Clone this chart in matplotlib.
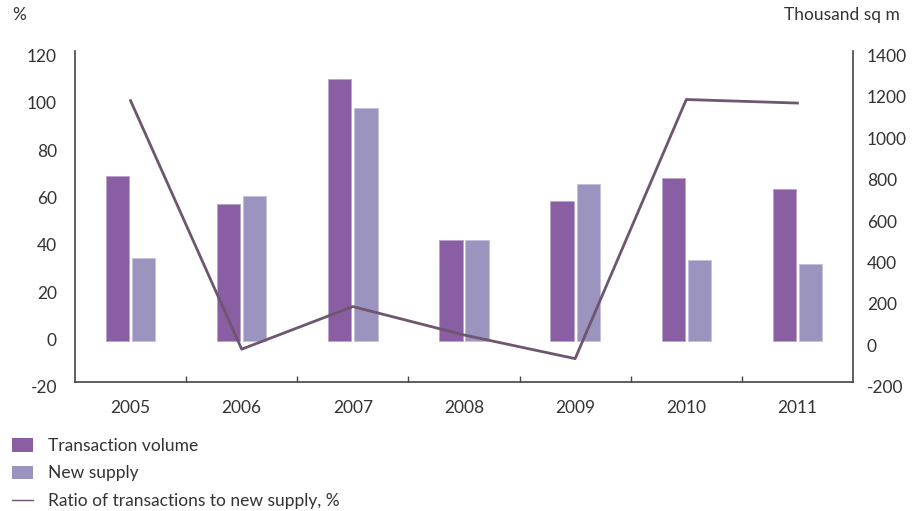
import matplotlib
matplotlib.use("Agg")
import matplotlib.pyplot as plt
import matplotlib.transforms as mtransforms
from matplotlib.patches import Patch
from matplotlib.lines import Line2D
import numpy as np

years = ["2005", "2006", "2007", "2008", "2009", "2010", "2011"]
transaction_volume = [796, 663, 1263, 488, 677, 787, 735]   # thousand sq m
new_supply = [399, 701, 1124, 488, 756, 393, 369]            # thousand sq m
ratio_pct = [99, -6, 12, 0, -10, 99.5, 98]                   # %

left_ticks = [-20, 0, 20, 40, 60, 80, 100, 120]
right_ticks = [-200, 0, 200, 400, 600, 800, 1000, 1200, 1400]

C_TV = "#8A5EA2"
C_NS = "#9B94BE"
C_LINE = "#6D566E"
C_TEXT = "#333333"
C_AX = "#444444"

plt.rcParams['font.family'] = ['Lato', 'DejaVu Sans']
FS = 12.5

fig = plt.figure(figsize=(9.15, 5.11), dpi=100)
ax = fig.add_axes([75/915, 1-382.3/511, (853-75)/915, (382.3-51)/511])
ax2 = ax.twinx()

x = np.arange(len(years))
w = 0.21
off = 0.118
ax2.bar(x - off, transaction_volume, width=w, color=C_TV, edgecolor="#b9a3c9", linewidth=0.6, zorder=2)
ax2.bar(x + off, new_supply, width=w, color=C_NS, edgecolor="#c4bfdc", linewidth=0.6, zorder=2)
ax.plot(x, ratio_pct, color=C_LINE, lw=2, zorder=5)
ax.set_zorder(ax2.get_zorder() + 1)
ax.patch.set_visible(False)

ax.set_xlim(-0.5, len(years) - 0.5)
ax.set_ylim(-20, 120)
ax2.set_ylim(-200, 1400)
ax.set_yticks(left_ticks)
ax2.set_yticks(right_ticks)
ax.set_yticklabels([str(t) for t in left_ticks])
ax2.set_yticklabels([str(t) for t in right_ticks])

ax.set_xticks(x)
ax.set_xticklabels(years)
ax.set_xticks(np.arange(0.5, len(years) - 0.5, 1), minor=True)
ax.tick_params(axis='x', which='major', length=0, pad=13, labelsize=FS, labelcolor=C_TEXT)
ax.tick_params(axis='x', which='minor', direction='in', length=4, width=1, color=C_AX)
ax.tick_params(axis='y', length=0, pad=13, labelsize=FS, labelcolor=C_TEXT)
ax2.tick_params(axis='y', length=0, pad=10, labelsize=FS, labelcolor=C_TEXT)

for a in (ax, ax2):
    for s in a.spines.values():
        s.set_visible(False)
ax.spines['left'].set_visible(True)
ax.spines['bottom'].set_visible(True)
ax2.spines['right'].set_visible(True)
for s in (ax.spines['left'], ax.spines['bottom'], ax2.spines['right']):
    s.set_color(C_AX)
    s.set_linewidth(1.2)

shift = mtransforms.ScaledTranslation(0, -4.5/100, fig.dpi_scale_trans)
for lab in ax.get_yticklabels() + ax2.get_yticklabels():
    lab.set_transform(lab.get_transform() + shift)

fig.text(12/915, 1-15/511, "%", fontsize=FS, color=C_TEXT, va='center', ha='left')
fig.text(900/915, 1-15/511, "Thousand sq m", fontsize=FS, color=C_TEXT, va='center', ha='right')

handles = [Patch(facecolor=C_TV, edgecolor='none'),
           Patch(facecolor=C_NS, edgecolor='none'),
           Line2D([0], [0], color=C_LINE, lw=1)]
labels = ["Transaction volume", "New supply", "Ratio of transactions to new supply, %"]
fig.legend(handles, labels, loc='upper left', bbox_to_anchor=(12/915, 1-438/511),
           frameon=False, fontsize=FS, labelcolor=C_TEXT, handlelength=1.2,
           handleheight=0.8, handletextpad=0.9, labelspacing=0.66,
           borderpad=0, borderaxespad=0)

fig.savefig("out.png", dpi=100)
